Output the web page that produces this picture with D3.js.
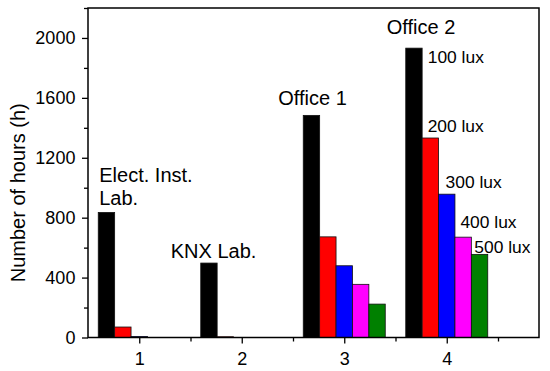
<!DOCTYPE html>
<html>
<head>
<meta charset="utf-8">
<script src="https://cdn.jsdelivr.net/npm/d3@7"></script>
<style>
body{margin:0;background:#fff;}
text{font-family:"Liberation Sans",Arial,sans-serif;fill:#000;}
</style>
</head>
<body>
<script>
// data
const groups = [1, 2, 3, 4];
const siteNames = [["Elect. Inst.", "Lab."], ["KNX Lab."], ["Office 1"], ["Office 2"]];
const luxLevels = ["100 lux", "200 lux", "300 lux", "400 lux", "500 lux"];
const lux100 = [835, 497, 1483, 1932];
const lux200 = [70, 5, 672, 1332];
const lux300 = [7, 0, 479, 957];
const lux400 = [0, 0, 355, 670];
const lux500 = [0, 0, 223, 555];
const yTicks = [0, 400, 800, 1200, 1600, 2000];
const colors = ["#000000", "#ff0000", "#0000ff", "#ff00ff", "#008000"];

const series = [lux100, lux200, lux300, lux400, lux500];

const w = 550, h = 371;
const padL = 88, padR = 539, padT = 8, padB = 337.5;

const svg = d3.select("body").append("svg")
  .attr("width", w).attr("height", h);

const x = d3.scaleLinear().domain([0.5, 4.9]).range([padL, padR]);
const y = d3.scaleLinear().domain([0, 2200]).range([padB, padT]);

const barW = x(0.16) - x(0);
const barX = (g, i) => x(g) - 2.5 * barW + i * barW;

// bars
series.forEach((vals, i) => {
  svg.append("g").selectAll("rect")
    .data(vals)
    .enter()
    .append("rect")
    .attr("x", (d, j) => barX(groups[j], i))
    .attr("y", d => y(d))
    .attr("width", barW)
    .attr("height", d => padB - y(d))
    .attr("fill", colors[i])
    .attr("stroke", d => d > 0 ? "#111" : "none")
    .attr("stroke-width", 0.8);
});

// axes
const xAxis = d3.axisBottom(x).tickValues(groups).tickFormat(d3.format("d")).tickSize(6).tickSizeOuter(0);
const xMinor = d3.axisBottom(x).tickValues([1.5, 2.5, 3.5, 4.5]).tickFormat("").tickSize(4).tickSizeOuter(0);
const yAxis = d3.axisLeft(y).tickValues(yTicks).tickFormat(d3.format("d")).tickSize(6).tickSizeOuter(0);
const yMinor = d3.axisLeft(y).tickValues([200, 600, 1000, 1400, 1800, 2200]).tickFormat("").tickSize(4).tickSizeOuter(0);

svg.append("g").attr("transform", "translate(0," + padB + ")").call(xMinor);
svg.append("g").attr("transform", "translate(0," + padB + ")").call(xAxis)
  .selectAll("text").attr("font-size", 18).attr("dy", "1.05em");
svg.append("g").attr("transform", "translate(" + padL + ",0)").call(yMinor);
svg.append("g").attr("transform", "translate(" + padL + ",0)").call(yAxis)
  .selectAll("text").attr("font-size", 18).attr("dx", "-0.2em");

svg.selectAll(".domain").remove();
svg.selectAll(".tick line").attr("stroke", "#000").attr("stroke-width", 1.3);
svg.selectAll(".tick text").attr("font-family", "Liberation Sans, Arial, sans-serif").attr("fill", "#000");

// frame
svg.append("rect")
  .attr("x", padL).attr("y", padT)
  .attr("width", padR - padL).attr("height", padB - padT)
  .attr("fill", "none").attr("stroke", "#000").attr("stroke-width", 1.5);

// y title
svg.append("text")
  .attr("transform", "translate(25," + ((padT + padB) / 2 + 20) + ") rotate(-90)")
  .attr("text-anchor", "middle")
  .attr("font-size", 20)
  .text("Number of hours (h)");

// site labels
const siteOffsets = [[1, -30.5], [-30, -5], [-25, -10], [-19, -14]];
siteNames.forEach((lines, j) => {
  const t = svg.append("text")
    .attr("font-size", 20)
    .attr("x", barX(groups[j], 0) + siteOffsets[j][0])
    .attr("y", y(lux100[j]) + siteOffsets[j][1]);
  lines.forEach((ln, k) => {
    t.append("tspan")
      .attr("x", barX(groups[j], 0) + siteOffsets[j][0])
      .attr("dy", k === 0 ? 0 : 23.5)
      .text(ln);
  });
});

// lux labels beside the Office 2 bars
const luxOffsets = [[22, 15], [5.5, -6.5], [7, -6], [5.5, -9], [3, -1.5]];
luxLevels.forEach((lbl, i) => {
  svg.append("text")
    .attr("font-size", 17.4)
    .attr("x", barX(4, i) + luxOffsets[i][0])
    .attr("y", y(series[i][3]) + luxOffsets[i][1])
    .text(lbl);
});
</script>
</body>
</html>
